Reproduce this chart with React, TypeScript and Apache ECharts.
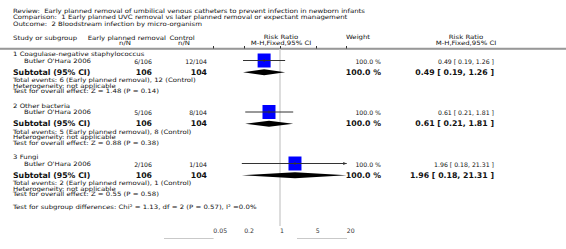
import React, { useEffect, useRef } from "react";
import * as echarts from "echarts";

// ---------- data ----------
const reviewTitle = "Review:  Early planned removal of umbilical venous catheters to prevent infection in newborn infants";
const comparisonTitle = "Comparison:  1 Early planned UVC removal vs later planned removal or expectant management";
const outcomeTitle = "Outcome:  2 Bloodstream infection by micro-organism";

const subgroupNames = ["1 Coagulase-negative staphylococcus", "2 Other bacteria", "3 Fungi"];
const studyNames = ["Butler O'Hara 2006", "Butler O'Hara 2006", "Butler O'Hara 2006"];
const expEvents = [6, 5, 2];
const expTotals = [106, 106, 106];
const ctrlEvents = [12, 8, 1];
const ctrlTotals = [104, 104, 104];
const studyRR = [0.49, 0.61, 1.96];
const studyLo = [0.19, 0.21, 0.18];
const studyHi = [1.26, 1.81, 21.31];
const studyWeights = [100, 100, 100];
const subtotalRR = [0.49, 0.61, 1.96];
const subtotalLo = [0.19, 0.21, 0.18];
const subtotalHi = [1.26, 1.81, 21.31];
const zValues = [1.48, 0.88, 0.55];
const pValues = [0.14, 0.38, 0.58];
const tickValues = [0.05, 0.2, 1, 5, 20];
const subgroupTest = "Test for subgroup differences: Chi² = 1.13, df = 2 (P = 0.57), I² =0.0%";

// ---------- layout ----------
const W = 566;
const H = 249;
const FONT = '"DejaVu Sans", Verdana, sans-serif';
const SMALL = 6;
const WIDE = 1.16;
const NUM = 6.2;
const BOLD = 7.8;
const GRID_TOP = 48.5;
const AXIS_Y = 226;
const GRID_H = AXIS_Y - GRID_TOP;
const PLOT_L = 213.3;
const PLOT_R = 346.7;
const LOG_LO = Math.log10(tickValues[0]);
const LOG_HI = Math.log10(tickValues[tickValues.length - 1]);
const PPU = (PLOT_R - PLOT_L) / (LOG_HI - LOG_LO);
const X_MIN = LOG_LO - PLOT_L / PPU;
const X_MAX = LOG_HI + (W - PLOT_R) / PPU;

const GROUP_Y = [54.5, 106, 157.5];
const OFF_STUDY = 6.5;
const OFF_SUB = 17.8;
const OFF_TOTAL = 25.7;
const OFF_HET = 31.3;
const OFF_TEST = 36.8;

const COL_LEFT = 13;
const COL_STUDY = 24;
const COL_EXP_R = 152;
const COL_CTRL_R = 207;
const COL_W_R = 381;
const COL_RR_R = 494;

const fmtCI = (r: number, l: number, h: number) => `${r.toFixed(2)} [ ${l.toFixed(2)}, ${h.toFixed(2)} ]`;

function txt(text: string, x: number, y: number, opt: any = {}) {
  const align = opt.align || "left";
  return {
    type: "text",
    silent: true,
    x,
    y,
    scaleX: opt.scaleX || 1,
    style: {
      text,
      x: 0,
      y: 0,
      fill: opt.fill || "#111",
      fontSize: opt.size || SMALL,
      fontFamily: FONT,
      fontWeight: opt.bold ? "bold" : "normal",
      align,
      textAlign: align,
      verticalAlign: "middle",
      textVerticalAlign: "middle",
    },
  };
}

const word = (text: string, x: number, y: number, opt: any = {}) => txt(text, x, y, { scaleX: WIDE, ...opt });

function buildGraphics() {
  const g: any[] = [];
  g.push(word(reviewTitle, COL_LEFT, 11));
  g.push(word(comparisonTitle, COL_LEFT, 17.5));
  g.push(word(outcomeTitle, COL_LEFT, 24));

  g.push(word("Study or subgroup", COL_LEFT, 38));
  g.push(word("Early planned removal", 166, 38, { align: "right" }));
  g.push(word("n/N", 125, 43.5, { align: "center" }));
  g.push(word("Control", 169.5, 38, { align: "left" }));
  g.push(word("n/N", 184, 43.5, { align: "center" }));
  g.push(word("Risk Ratio", 281, 37.5, { align: "center" }));
  g.push(word("M-H,Fixed,95% CI", 281, 43, { align: "center" }));
  g.push(word("Weight", 358, 37.5, { align: "center" }));
  g.push(word("Risk Ratio", 466, 37.5, { align: "center" }));
  g.push(word("M-H,Fixed,95% CI", 466, 43, { align: "center" }));

  g.push({
    type: "line",
    silent: true,
    shape: { x1: 0, y1: GRID_TOP, x2: W, y2: GRID_TOP },
    style: { stroke: "#999", lineWidth: 1.5 },
  });

  subgroupNames.forEach((name, i) => {
    const y0 = GROUP_Y[i];
    g.push(word(name, COL_LEFT, y0));
    const ys = y0 + OFF_STUDY;
    g.push(word(studyNames[i], COL_STUDY, ys));
    g.push(txt(`${expEvents[i]}/${expTotals[i]}`, COL_EXP_R, ys, { align: "right", size: NUM }));
    g.push(txt(`${ctrlEvents[i]}/${ctrlTotals[i]}`, COL_CTRL_R, ys, { align: "right", size: NUM }));
    g.push(txt(`${studyWeights[i].toFixed(1)} %`, COL_W_R, ys, { align: "right", size: NUM }));
    g.push(txt(fmtCI(studyRR[i], studyLo[i], studyHi[i]), COL_RR_R, ys, { align: "right", size: NUM }));
    const yt = y0 + OFF_SUB;
    g.push(txt("Subtotal (95% CI)", COL_LEFT, yt, { bold: true, size: BOLD }));
    g.push(txt(String(expTotals[i]), COL_EXP_R, yt, { bold: true, size: BOLD, align: "right" }));
    g.push(txt(String(ctrlTotals[i]), COL_CTRL_R, yt, { bold: true, size: BOLD, align: "right" }));
    g.push(txt(`${studyWeights[i].toFixed(1)} %`, COL_W_R, yt, { bold: true, size: BOLD, align: "right" }));
    g.push(txt(fmtCI(subtotalRR[i], subtotalLo[i], subtotalHi[i]), COL_RR_R, yt, { bold: true, size: BOLD, align: "right" }));
    g.push(word(`Total events: ${expEvents[i]} (Early planned removal), ${ctrlEvents[i]} (Control)`, COL_LEFT, y0 + OFF_TOTAL));
    g.push(word("Heterogeneity: not applicable", COL_LEFT, y0 + OFF_HET));
    g.push(word(`Test for overall effect: Z = ${zValues[i].toFixed(2)} (P = ${pValues[i].toFixed(2)})`, COL_LEFT, y0 + OFF_TEST));
  });

  g.push(word(subgroupTest, COL_LEFT, 207.5));

  g.push({
    type: "line",
    silent: true,
    shape: { x1: 164.5, y1: 238.5, x2: 213.3, y2: 238.5 },
    style: { stroke: "#777", lineWidth: 0.8, lineDash: [1, 1] },
  });
  g.push({
    type: "line",
    silent: true,
    shape: { x1: 297.5, y1: 238.5, x2: 346.5, y2: 238.5 },
    style: { stroke: "#777", lineWidth: 0.8, lineDash: [1, 1] },
  });
  return g;
}

function buildOption(): any {
  const studyData = studyRR.map((v, i) => [
    Math.log10(v),
    GROUP_Y[i] + OFF_STUDY - 0.5 - GRID_TOP,
    Math.log10(studyLo[i]),
    Math.log10(studyHi[i]),
  ]);
  const subData = subtotalRR.map((v, i) => [
    Math.log10(v),
    GROUP_Y[i] + OFF_SUB - GRID_TOP,
    Math.log10(subtotalLo[i]),
    Math.log10(subtotalHi[i]),
  ]);
  const tickLogs = tickValues.map((t) => Math.log10(t));

  return {
    animation: false,
    backgroundColor: "#fff",
    grid: { left: 0, right: 0, top: GRID_TOP, bottom: H - AXIS_Y, containLabel: false, outerBoundsMode: "none" },
    xAxis: {
      type: "value",
      min: X_MIN,
      max: X_MAX,
      position: "bottom",
      axisLine: { show: true, lineStyle: { color: "#999", width: 1.5 } },
      axisTick: { show: true, inside: true, length: 2.5, customValues: tickLogs, lineStyle: { color: "#333", width: 1 } },
      axisLabel: {
        show: true,
        customValues: tickLogs,
        margin: 1.5,
        align: "left",
        fontSize: NUM,
        fontFamily: FONT,
        color: "#333",
        formatter: (v: number) => {
          const t = tickValues.find((tv) => Math.abs(Math.log10(tv) - v) < 1e-6);
          return t === undefined ? "" : String(t);
        },
      },
      splitLine: { show: false },
    },
    yAxis: { type: "value", min: 0, max: GRID_H, inverse: true, show: false },
    graphic: buildGraphics(),
    series: [
      {
        type: "custom",
        z: 1,
        silent: true,
        clip: false,
        data: [[Math.log10(1)]],
        encode: { x: 0 },
        renderItem: (params: any, api: any) => {
          const top = api.coord([api.value(0), 0]);
          const bot = api.coord([api.value(0), GRID_H]);
          return {
            type: "line",
            shape: { x1: top[0], y1: top[1] + 1, x2: bot[0], y2: bot[1] },
            style: { stroke: "#ddd", lineWidth: 2 },
          };
        },
      },
      {
        type: "custom",
        z: 3,
        silent: true,
        clip: false,
        data: studyData,
        encode: { x: [0, 2, 3], y: 1 },
        renderItem: (params: any, api: any) => {
          const y = api.value(1);
          const c = api.coord([api.value(0), y]);
          const lo = api.coord([api.value(2), y]);
          const hi = api.coord([api.value(3), y]);
          const lim0 = api.coord([LOG_LO, y])[0];
          const lim1 = api.coord([LOG_HI, y])[0];
          const x1 = Math.max(lo[0], lim0);
          const x2 = Math.min(hi[0], lim1);
          const children: any[] = [
            { type: "rect", shape: { x: c[0] - 6.5, y: c[1] - 7, width: 13, height: 14 }, style: { fill: "#0000ff" } },
            { type: "line", shape: { x1, y1: c[1], x2, y2: c[1] }, style: { stroke: "#333", lineWidth: 1 } },
            { type: "line", shape: { x1: c[0], y1: c[1] - 1.5, x2: c[0], y2: c[1] + 1.5 }, style: { stroke: "#333", lineWidth: 1 } },
          ];
          if (hi[0] > lim1) {
            children.push({
              type: "polygon",
              shape: { points: [[lim1, c[1]], [lim1 - 3.5, c[1] - 1.5], [lim1 - 3.5, c[1] + 1.5]] },
              style: { fill: "#333" },
            });
          }
          if (lo[0] < lim0) {
            children.push({
              type: "polygon",
              shape: { points: [[lim0, c[1]], [lim0 + 3.5, c[1] - 1.5], [lim0 + 3.5, c[1] + 1.5]] },
              style: { fill: "#333" },
            });
          }
          return { type: "group", children };
        },
      },
      {
        type: "custom",
        z: 3,
        silent: true,
        clip: false,
        data: subData,
        encode: { x: [0, 2, 3], y: 1 },
        renderItem: (params: any, api: any) => {
          const y = api.value(1);
          const c = api.coord([api.value(0), y]);
          const lo = api.coord([api.value(2), y]);
          const hi = api.coord([api.value(3), y]);
          const lim0 = api.coord([LOG_LO, y])[0];
          const lim1 = api.coord([LOG_HI, y])[0];
          const lx = Math.max(lo[0], lim0);
          const rx = Math.min(hi[0], lim1);
          return {
            type: "polygon",
            shape: { points: [[lx, c[1]], [c[0], c[1] - 3], [rx, c[1]], [c[0], c[1] + 3]] },
            style: { fill: "#000" },
          };
        },
      },
    ],
  };
}

export default function App() {
  const ref = useRef<HTMLDivElement>(null);
  useEffect(() => {
    if (!ref.current) return;
    const chart = echarts.init(ref.current, null, { renderer: "svg" });
    chart.setOption(buildOption());
    return () => chart.dispose();
  }, []);
  return (
    <div
      ref={ref}
      style={{ position: "fixed", left: 0, top: 0, width: W, height: H, background: "#fff" }}
    />
  );
}
